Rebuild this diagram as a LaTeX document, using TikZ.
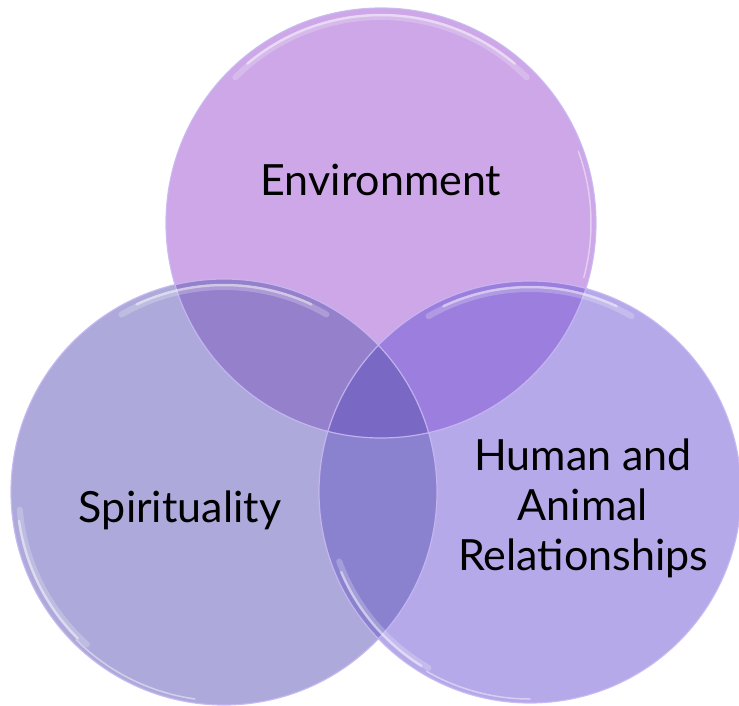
\documentclass[tikz,border=0pt]{standalone}
\usepackage{fontspec}
\setmainfont{Lato}
\definecolor{topc}{HTML}{CDA7E7}
\definecolor{leftc}{HTML}{ADAADB}
\definecolor{rightc}{HTML}{B6A9E9}
\definecolor{tlc}{HTML}{9580CB}
\definecolor{trc}{HTML}{9B7EDD}
\definecolor{lrc}{HTML}{8A82CF}
\definecolor{allc}{HTML}{7A68C5}
\definecolor{rimc}{HTML}{C8B8F2}
\tikzset{
  rim/.style={draw=rimc, line width=1.2pt, opacity=0.9},
  glosswide/.style={draw=white, line width=6pt, opacity=0.22, line cap=round},
  gloss/.style={draw=white, line width=2.5pt, opacity=0.45, line cap=round},
  glossthin/.style={draw=white, line width=1.5pt, opacity=0.45, line cap=round},
  lbl/.style={font=\fontsize{43}{50}\selectfont, text=black, inner sep=0pt, align=center}
}
\begin{document}
\begin{tikzpicture}[x=1pt,y=-1pt]
\useasboundingbox (0,0) rectangle (739,706);
\coordinate (T) at (381,223);
\coordinate (L) at (224,492);
\coordinate (R) at (530,492);
\def\rT{215pt}
\def\rL{213pt}
\def\rR{211pt}
% base fills
\fill[topc] (T) circle[radius=\rT];
\fill[leftc] (L) circle[radius=\rL];
\fill[rightc] (R) circle[radius=\rR];
% left-right overlap
\begin{scope}
  \clip (L) circle[radius=\rL];
  \fill[lrc] (R) circle[radius=\rR];
\end{scope}
% overlaps with top circle
\begin{scope}
  \clip (T) circle[radius=\rT];
  \fill[tlc] (L) circle[radius=\rL];
  \fill[trc] (R) circle[radius=\rR];
  \clip (L) circle[radius=\rL];
  \fill[allc] (R) circle[radius=\rR];
\end{scope}
% rims
\draw[rim] (T) circle[radius=\rT];
\draw[rim] (L) circle[radius=\rL];
\draw[rim] (R) circle[radius=\rR];
% gloss highlights (soft)
\draw[glosswide, shift={(T)}] (45:206pt) arc[start angle=45, end angle=135, radius=206pt];
\draw[gloss, shift={(T)}] (50:208pt) arc[start angle=50, end angle=130, radius=208pt];
\draw[glosswide, shift={(L)}] (60:205pt) arc[start angle=60, end angle=120, radius=205pt];
\draw[gloss, shift={(L)}] (65:207pt) arc[start angle=65, end angle=115, radius=207pt];
\draw[glosswide, shift={(R)}] (60:203pt) arc[start angle=60, end angle=120, radius=203pt];
\draw[gloss, shift={(R)}] (65:205pt) arc[start angle=65, end angle=115, radius=205pt];
\draw[glosswide, shift={(L)}] (185:205pt) arc[start angle=185, end angle=228, radius=205pt];
\draw[gloss, shift={(L)}] (188:207pt) arc[start angle=188, end angle=225, radius=207pt];
\draw[glossthin, shift={(L)}] (225:209pt) arc[start angle=225, end angle=262, radius=209pt];
\draw[glosswide, shift={(R)}] (200:203pt) arc[start angle=200, end angle=240, radius=203pt];
\draw[gloss, shift={(R)}] (203:205pt) arc[start angle=203, end angle=238, radius=205pt];
\draw[glossthin, shift={(R)}] (240:207pt) arc[start angle=240, end angle=270, radius=207pt];
\draw[glossthin, shift={(T)}] (-15:210pt) arc[start angle=-15, end angle=20, radius=210pt];
% labels
\node[lbl, anchor=base] (env) at (381,195) {Environment};
\node[lbl, anchor=base] (spi) at (180,522) {Spirituality};
\node[lbl, anchor=center] (hum) at (583,508) {Human and\\Animal\\Relationships};
\end{tikzpicture}
\end{document}
